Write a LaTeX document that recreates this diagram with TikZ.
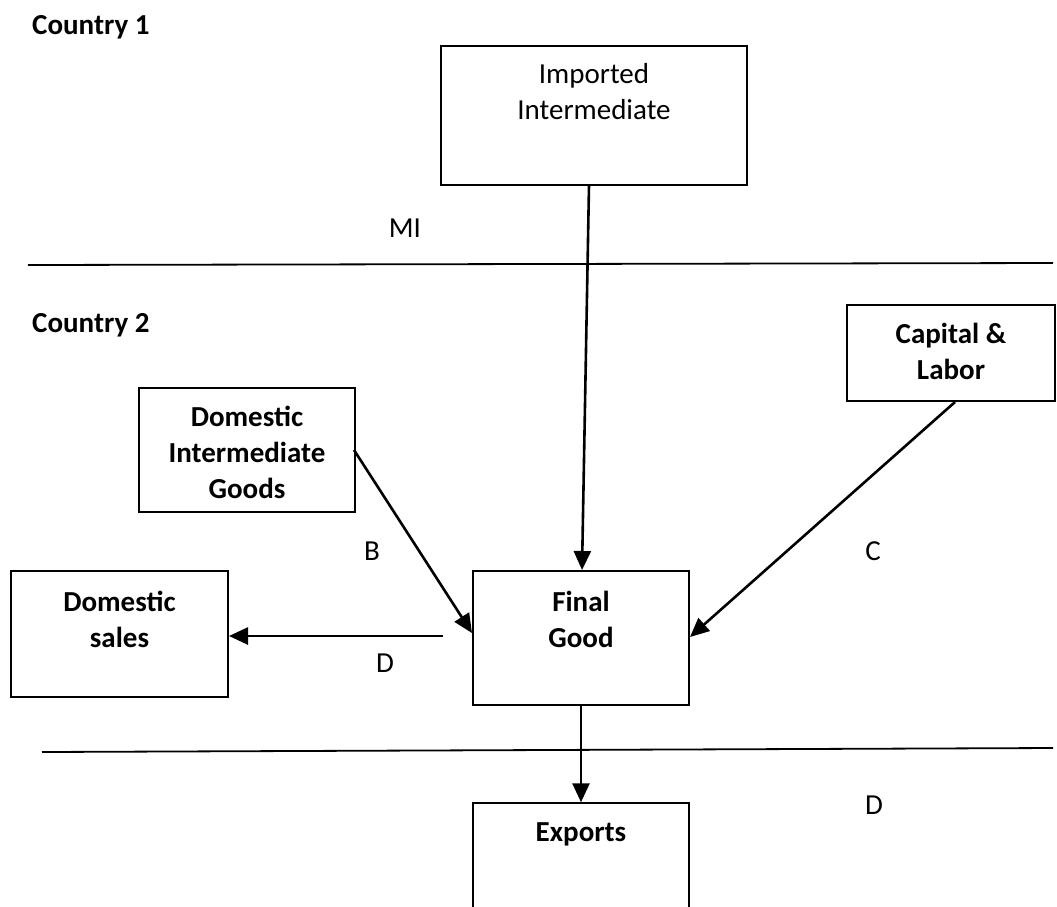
\documentclass[tikz,border=0pt]{standalone}
\usepackage{fontspec}
\setmainfont{Carlito}
\usetikzlibrary{arrows.meta}
\begin{document}
\begin{tikzpicture}[x=1pt,y=-1pt,
  box/.style={draw, line width=1.5pt, inner sep=0pt, minimum width=#1},
  txt/.style={font=\fontsize{29}{36}\selectfont, align=center, inner sep=0pt},
  btxt/.style={txt, font=\fontsize{29}{36}\selectfont\bfseries},
  sep/.style={line width=1.8pt},
  arr/.style={line width=2.6pt, -{Triangle[length=19pt,width=17pt]}}]
\useasboundingbox (0,0) rectangle (1057,906);
\clip (0,0) rectangle (1057,906);
% boxes
\node[box=306pt, minimum height=139pt] (imp) at (594,115.5) {};
\node[box=208pt, minimum height=96pt] (cap) at (951,353) {};
\node[box=216pt, minimum height=124pt] (dig) at (247,450) {};
\node[box=216pt, minimum height=134pt] (fg) at (581,638) {};
\node[box=217pt, minimum height=126pt] (ds) at (119.5,634) {};
\node[box=216pt, minimum height=120pt] (exp) at (581,863) {};
% box texts
\node[txt, anchor=north] (impt) at (594,63) {Imported\\Intermediate};
\node[btxt, anchor=north] (capt) at (951,323) {Capital \&\\Labor};
\node[btxt, anchor=north] (digt) at (247,406) {Domestic\\Intermediate\\Goods};
\node[btxt, anchor=north] (fgt) at (581,591) {Final\\Good};
\node[btxt, anchor=north] (dst) at (119.5,591) {Domestic\\sales};
\node[btxt, anchor=north] (expt) at (581,822) {Exports};
% country labels
\node[btxt, anchor=base west] (c1) at (32,34) {Country 1};
\node[btxt, anchor=base west] (c2) at (32,332) {Country 2};
% separators
\coordinate (l1a) at (28,265);
\coordinate (l1b) at (1053,263);
\coordinate (l2a) at (42,752);
\coordinate (l2b) at (1053,748);
\draw[sep] (l1a) -- (l1b);
\draw[sep] (l2a) -- (l2b);
% flow labels
\node[txt] (mi) at (405,228) {MI};
\node[txt] (lb) at (372,551) {B};
\node[txt] (lc) at (873,551) {C};
\node[txt] (ld) at (385,663) {D};
\node[txt] (ld2) at (874,805) {D};
% arrows
\coordinate (impout) at (589,185);
\coordinate (fgin1) at (582,570);
\coordinate (digout) at (354,450);
\coordinate (fgin2) at (472,633);
\coordinate (capout) at (955,402);
\coordinate (fgin3) at (690,637);
\coordinate (dstart) at (443,636);
\coordinate (dsin) at (229,636);
\draw[arr] (impout) -- (fgin1);
\draw[arr] (digout) -- (fgin2);
\draw[arr] (capout) -- (fgin3);
\draw[arr] (dstart) -- (dsin);
\draw[arr] (fg.south) -- (exp.north);
\end{tikzpicture}
\end{document}
